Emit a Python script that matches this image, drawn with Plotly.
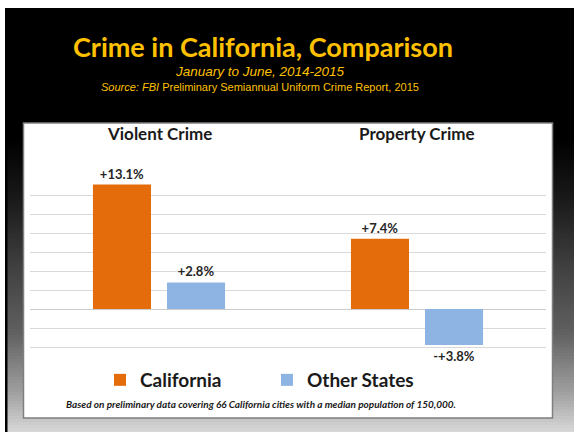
import plotly.graph_objects as go

# data
categories = ["Violent Crime", "Property Crime"]
california = [13.1, 7.4]
other_states = [2.8, -3.8]
california_labels = ["+13.1%", "+7.4%"]
other_labels = ["+2.8%", "-+3.8%"]

W, H = 574, 432
ORANGE = "#E46C0A"
BLUE = "#8DB4E2"
GOLD = "#FFC000"
FONT = "Lato"


def px_x(x):
    return x / W


def px_y(y):
    return 1 - y / H


fig = go.Figure()

fig.add_trace(go.Bar(
    x=categories, y=california, name="California",
    marker=dict(color=ORANGE, line=dict(width=0)),
    text=california_labels, textposition="outside", cliponaxis=False,
    textfont=dict(family=FONT, size=13, color="#262626", weight="bold"),
))
fig.add_trace(go.Bar(
    x=categories, y=other_states, name="Other States",
    marker=dict(color=BLUE, line=dict(width=0)),
    text=other_labels, textposition="outside", cliponaxis=False,
    textfont=dict(family=FONT, size=13, color="#262626", weight="bold"),
))

# background: white frame, dark slide with vertical gradient
stops = [(8, 0), (140, 0), (200, 26), (267, 64), (333, 96), (393, 160), (432, 216)]


def grey_at(y):
    for (y0, c0), (y1, c1) in zip(stops[:-1], stops[1:]):
        if y0 <= y <= y1:
            return int(round(c0 + (c1 - c0) * (y - y0) / (y1 - y0)))
    return stops[-1][1]


shapes = []
step = 3
for y in range(8, 432, step):
    g = grey_at(y + step / 2)
    shapes.append(dict(
        type="rect", xref="paper", yref="paper", layer="below",
        x0=px_x(5), x1=1, y0=px_y(min(y + step, 432)), y1=px_y(y),
        fillcolor=f"rgb({g},{g},{g})", line=dict(width=0),
    ))
# black left edge of the slide
shapes.append(dict(type="rect", xref="paper", yref="paper", layer="below",
                   x0=px_x(5), x1=px_x(7.5), y0=0, y1=px_y(8),
                   fillcolor="black", line=dict(width=0)))
# white chart panel
shapes.append(dict(type="rect", xref="paper", yref="paper", layer="below",
                   x0=px_x(23.5), x1=px_x(552.5), y0=px_y(418), y1=px_y(123),
                   fillcolor="white", line=dict(color="#7f7f7f", width=1.5)))

annotations = [
    dict(text="<b>Crime in California, Comparison</b>", x=px_x(263), y=px_y(46),
         xref="paper", yref="paper", showarrow=False, xanchor="center", yanchor="middle",
         font=dict(family=FONT, size=27, color=GOLD)),
    dict(text="<i>January to June, 2014-2015</i>", x=px_x(260), y=px_y(72),
         xref="paper", yref="paper", showarrow=False, xanchor="center", yanchor="middle",
         font=dict(family="Liberation Sans", size=13.5, color=GOLD)),
    dict(text="<i>Source: FBI</i> Preliminary Semiannual Uniform Crime Report, 2015",
         x=px_x(260), y=px_y(87), xref="paper", yref="paper", showarrow=False,
         xanchor="center", yanchor="middle",
         font=dict(family="Liberation Sans", size=11, color=GOLD)),
    dict(text="<b><i>Based on preliminary data covering 66 California cities with a median population of 150,000.</i></b>",
         x=px_x(261), y=px_y(404), xref="paper", yref="paper", showarrow=False,
         xanchor="center", yanchor="middle",
         font=dict(family=FONT, size=10, color="#1a1a1a")),
]
for c in categories:
    annotations.append(dict(
        text=f"<b>{c}</b>", x=c, xref="x", y=px_y(134), yref="paper",
        showarrow=False, xanchor="center", yanchor="middle",
        font=dict(family=FONT, size=17, color="#1a1a1a"),
    ))

fig.update_layout(
    width=W, height=H,
    margin=dict(l=0, r=0, t=0, b=0),
    paper_bgcolor="white",
    plot_bgcolor="rgba(0,0,0,0)",
    barmode="group",
    bargap=0.426,
    bargroupgap=0.216,
    shapes=shapes,
    annotations=annotations,
    xaxis=dict(domain=[px_x(30), px_x(546)], showticklabels=False, showgrid=False,
               zeroline=False, showline=False),
    yaxis=dict(domain=[px_y(366), px_y(176)], range=[-6, 14], dtick=2,
               showticklabels=False, showgrid=True, gridcolor="#d9d9d9", gridwidth=1,
               zeroline=True, zerolinecolor="#cccccc", zerolinewidth=1, showline=False),
    showlegend=True,
    legend=dict(orientation="h", x=px_x(100), y=px_y(380), xanchor="left", yanchor="middle",
                font=dict(family=FONT, size=19, color="#1a1a1a", weight="bold"),
                entrywidth=122, bgcolor="rgba(0,0,0,0)", itemclick=False),
)

# the page body has an 8px default margin; drop it so the figure fills the window
fig.write_html("out.html", config={"displayModeBar": False},
               post_script="document.body.style.margin='0';")
